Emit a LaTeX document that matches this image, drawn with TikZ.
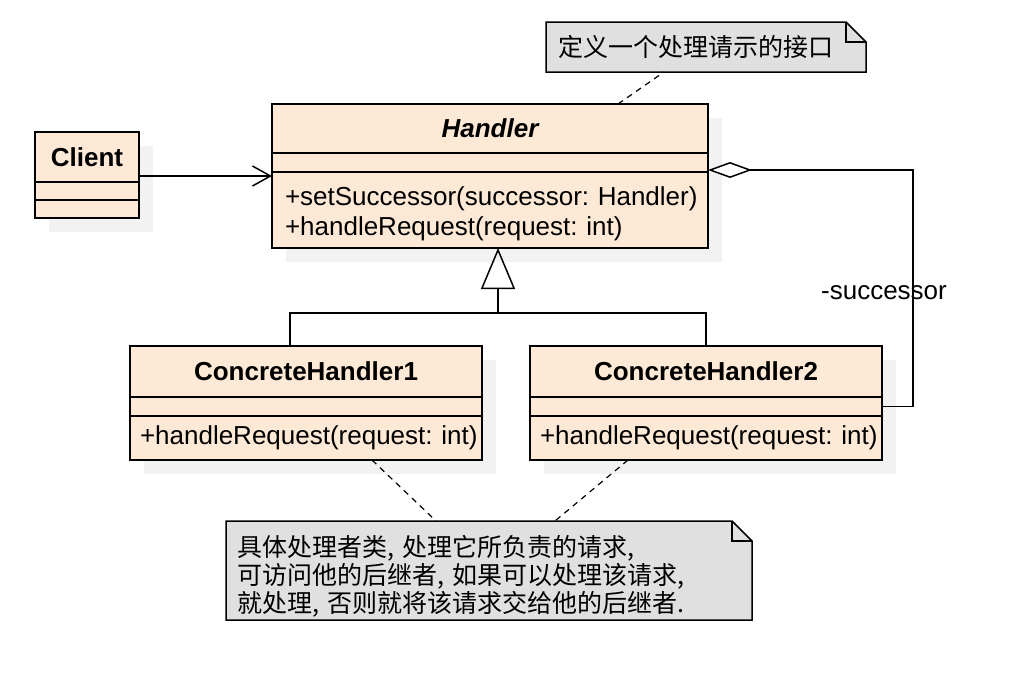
\documentclass[tikz,border=0pt]{standalone}
\usepackage{fontspec}
\setmainfont{Liberation Sans}
\newfontfamily\cjk{Noto Sans CJK SC}
\usetikzlibrary{arrows.meta, positioning, shadows, backgrounds}
\definecolor{classfill}{HTML}{FDE9D5}
\definecolor{notefill}{HTML}{E0E0E0}
\definecolor{shadowgrey}{HTML}{F2F2F2}
\frenchspacing

\begin{document}
\begin{tikzpicture}[
    x=1pt, y=-1pt, line width=1.5pt,
    font=\fontsize{26}{30}\selectfont,
    part/.style={draw, fill=classfill, inner sep=0pt, outer sep=0pt,
        drop shadow={shadow xshift=14pt, shadow yshift=-14pt, fill=shadowgrey, opacity=1}},
    classname/.style={part, minimum height=50pt, font=\fontsize{26}{30}\selectfont\bfseries},
    classrow/.style={part, minimum height=19pt},
    methods/.style={part, align=left, inner xsep=13pt},
    note/.style={inner ysep=0pt, outer sep=0pt, align=left, font=\cjk\fontsize{25}{28}\selectfont},
    notebox/.style={draw=black, fill=notefill, line width=1.5pt},
    notelink/.style={dash pattern=on 6pt off 5pt, line width=1.2pt},
    assoc/.style={-{Straight Barb[length=18pt, width=20pt]}},
    inherit/.style={-{Triangle[open, length=41pt, width=34pt]}},
    aggr/.style={-{Diamond[fill=white, length=44pt, width=16pt]}}
]
\useasboundingbox (0,0) rectangle (1012,696);

% classes
\node[classname, minimum width=104pt] (cname) at (87,157) {Client};
\node[classrow, minimum width=104pt, minimum height=18pt, below=0pt of cname] (cattr) {};
\node[classrow, minimum width=104pt, minimum height=18pt, below=0pt of cattr] (cmeth) {};

\node[classname, minimum width=436pt, minimum height=49pt, font=\fontsize{26}{30}\selectfont\bfseries\itshape] (hname) at (490,128.5) {Handler};
\node[classrow, minimum width=436pt, below=0pt of hname] (hattr) {};
\node[methods, text width=410pt, minimum height=76pt, below=0pt of hattr] (hmeth)
    {\rule{0pt}{27pt}\mbox{+setSuccessor(successor: Handler)}\\\mbox{+handleRequest(request: int)}};

\node[classname, minimum width=352pt, minimum height=51pt] (ch1name) at (306,371.5) {ConcreteHandler1};
\node[classrow, minimum width=352pt, below=0pt of ch1name] (ch1attr) {};
\node[methods, inner xsep=10pt, text width=332pt, minimum height=44pt, below=0pt of ch1attr] (ch1meth) {\mbox{+handleRequest(request: int)}};

\node[classname, minimum width=352pt, minimum height=51pt] (ch2name) at (706,371.5) {ConcreteHandler2};
\node[classrow, minimum width=352pt, below=0pt of ch2name] (ch2attr) {};
\node[methods, inner xsep=10pt, text width=332pt, minimum height=44pt, below=0pt of ch2attr] (ch2meth) {\mbox{+handleRequest(request: int)}};

% notes
\node[note, inner xsep=12pt, text width=296pt, minimum height=50pt] (note1) at (706,47) {定义一个处理请示的接口};
\node[note, inner xsep=11pt, text width=504pt, minimum height=99pt] (note2) at (489,570.5)
    {\rule{0pt}{32pt}具体处理者类, 处理它所负责的请求,\\可访问他的后继者, 如果可以处理该请求,\\就处理, 否则就将该请求交给他的后继者.};
\begin{scope}[on background layer]
\fill[white] (0,0) rectangle (1012,696);
\foreach \n in {note1, note2} {
    \draw[notebox] (\n.south west) -- (\n.north west) -- ([xshift=-20pt]\n.north east)
        -- ([yshift=-20pt]\n.north east) -- (\n.south east) -- cycle;
    \draw[line width=1.5pt] ([xshift=-20pt]\n.north east) |- ([yshift=-20pt]\n.north east);
}
\end{scope}

% relations
\draw[assoc] ([yshift=-19pt]cname.east) -- ([yshift=-19pt]cname.east -| hmeth.west);

\coordinate (hub) at (498,313);
\draw[inherit] (hub) -- (hub |- hmeth.south);
\draw ([xshift=-16pt]ch1name.north) |- (hub) -| (ch2name.north);

\coordinate (aggbend) at (913,170);
\draw[aggr] (ch2attr.east) -| (aggbend) -- (aggbend -| hattr.east);
\node (succ) at (884,293) {-successor};

\draw[notelink] ([xshift=128pt]hname.north) -- ([xshift=-42pt]note1.south);
\draw[notelink] ([xshift=66pt]ch1meth.south) -- ([xshift=-53pt]note2.north);
\draw[notelink] ([xshift=-78pt]ch2meth.south) -- ([xshift=66pt]note2.north);
\end{tikzpicture}
\end{document}
